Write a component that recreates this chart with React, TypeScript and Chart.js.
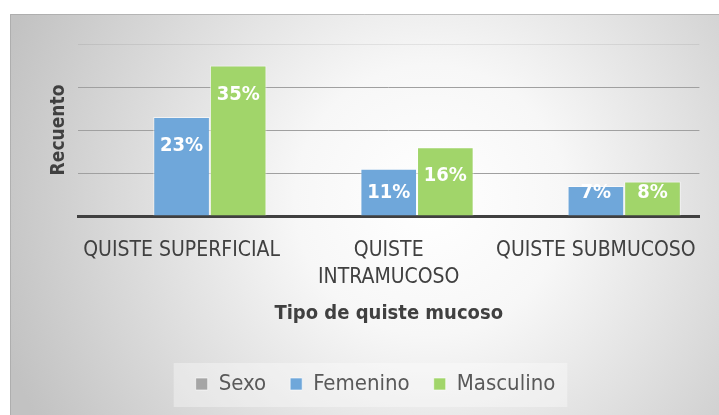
import { useEffect, useRef } from 'react';
import { Chart, registerables } from 'chart.js';
Chart.register(...registerables);

const categories: (string | string[])[] = ['QUISTE SUPERFICIAL', ['QUISTE', 'INTRAMUCOSO'], 'QUISTE SUBMUCOSO'];
const seriesNames = ['Sexo', 'Femenino', 'Masculino'];
const sexoValues: (number | null)[] = [null, null, null];
const femeninoValues = [23, 11, 7];
const masculinoValues = [35, 16, 8];
const yTicks = [0, 10, 20, 30, 40];

const FONT = "'Liberation Sans Narrow', 'DejaVu Sans Condensed', 'Open Sans', sans-serif";

const backgroundPlugin = {
  id: 'bgPlugin',
  beforeDraw(chart: any) {
    const { ctx } = chart;
    ctx.save();
    const x0 = 10, y0 = 14, w = 709, h = 401;
    const g = ctx.createRadialGradient(430, 200, 0, 430, 200, 450);
    g.addColorStop(0, '#ffffff');
    g.addColorStop(0.3, '#f7f7f7');
    g.addColorStop(1, '#c2c2c2');
    ctx.fillStyle = g;
    ctx.fillRect(x0, y0, w, h);
    ctx.strokeStyle = 'rgba(160,160,160,0.6)';
    ctx.lineWidth = 1;
    ctx.beginPath();
    ctx.moveTo(x0 + 0.5, y0 + h);
    ctx.lineTo(x0 + 0.5, y0 + 0.5);
    ctx.lineTo(x0 + w, y0 + 0.5);
    ctx.stroke();
    // legend backdrop
    const legend = chart.legend;
    if (legend && legend.legendHitBoxes && legend.legendHitBoxes.length) {
      const boxes = legend.legendHitBoxes;
      let l = Infinity, r = -Infinity, t = Infinity, b = -Infinity;
      boxes.forEach((bx: any) => {
        l = Math.min(l, bx.left);
        r = Math.max(r, bx.left + bx.width);
        t = Math.min(t, bx.top);
        b = Math.max(b, bx.top + bx.height);
      });
      ctx.fillStyle = 'rgba(255,255,255,0.35)';
      ctx.fillRect(l - 22, t - 10, r - l + 34, b - t + 22);
    }
    ctx.restore();
  },
};

const labelPlugin = {
  id: 'barLabels',
  afterDatasetsDraw(chart: any) {
    const { ctx } = chart;
    ctx.save();
    ctx.font = `bold 20px ${FONT}`;
    ctx.fillStyle = '#ffffff';
    ctx.textAlign = 'center';
    ctx.textBaseline = 'middle';
    chart.data.datasets.forEach((ds: any, i: number) => {
      const meta = chart.getDatasetMeta(i);
      meta.data.forEach((bar: any, j: number) => {
        const v = ds.data[j];
        if (v === null || v === undefined) return;
        const y = Math.min(bar.y + 29, bar.base - 23);
        ctx.fillText(`${v}%`, bar.x, y);
      });
    });
    ctx.restore();
  },
};

export default function App() {
  const ref = useRef<HTMLCanvasElement>(null);
  useEffect(() => {
    if (!ref.current) return;
    const chart = new Chart(ref.current, {
      type: 'bar',
      data: {
        labels: categories,
        datasets: [
          { label: seriesNames[0], data: sexoValues, backgroundColor: '#a5a5a5', borderColor: 'rgba(255,255,255,0.6)', borderWidth: 1 },
          { label: seriesNames[1], data: femeninoValues, backgroundColor: '#6fa7da', borderColor: 'rgba(255,255,255,0.6)', borderWidth: 1 },
          { label: seriesNames[2], data: masculinoValues, backgroundColor: '#a1d56a', borderColor: 'rgba(255,255,255,0.6)', borderWidth: 1 },
        ],
      },
      options: {
        animation: false,
        responsive: false,
        devicePixelRatio: 1,
        categoryPercentage: 0.82,
        barPercentage: 1,
        layout: { padding: { left: 40, right: 8, top: 44, bottom: 10 } },
        plugins: {
          tooltip: { enabled: false },
          legend: {
            position: 'bottom',
            labels: {
              boxWidth: 12,
              boxHeight: 12,
              padding: 24,
              color: '#595959',
              font: { family: FONT, size: 22 },
            },
          },
        },
        scales: {
          x: {
            grid: { display: false, drawTicks: false },
            border: { display: true, color: '#404040', width: 3 },
            ticks: {
              color: '#404040',
              font: { family: FONT, size: 21, lineHeight: 1.24 },
              padding: 22,
              maxRotation: 0,
              autoSkip: false,
            },
            title: {
              display: true,
              text: 'Tipo de quiste mucoso',
              color: '#404040',
              font: { family: FONT, size: 20, weight: 'bold', lineHeight: 1.2 },
              padding: { top: 0, bottom: 23 },
            },
            afterFit: (axis: any) => { axis.height = 133; },
          },
          y: {
            min: 0,
            max: 40,
            afterBuildTicks: (axis: any) => { axis.ticks = yTicks.map((v) => ({ value: v })); },
            grid: {
              drawTicks: false,
              color: (c: any) => (c.tick && c.tick.value === 40 ? 'rgba(0,0,0,0.07)' : '#a0a0a0'),
              lineWidth: 1,
            },
            border: { display: false },
            ticks: { display: false },
            title: {
              display: true,
              text: 'Recuento',
              color: '#404040',
              font: { family: FONT, size: 19, weight: 'bold', lineHeight: 1.2 },
              padding: { top: 8, bottom: 0 },
            },
            afterFit: (axis: any) => { axis.width = 38; },
          },
        },
      },
      plugins: [backgroundPlugin, labelPlugin],
    } as any);
    return () => chart.destroy();
  }, []);
  return (
    <div style={{ position: 'absolute', left: 0, top: 0, width: 719, height: 415 }}>
      <canvas ref={ref} width={719} height={415} style={{ width: 719, height: 415, display: 'block' }} />
    </div>
  );
}
